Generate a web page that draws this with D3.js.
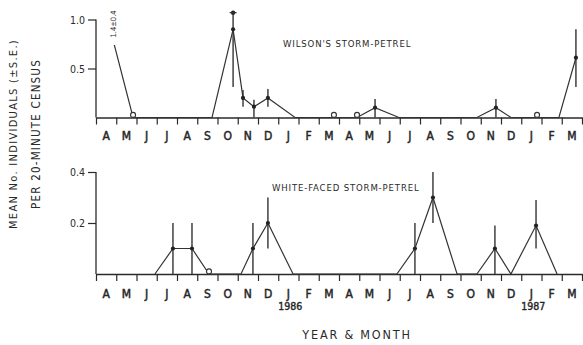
<!DOCTYPE html>
<html>
<head>
<meta charset="utf-8">
<script src="https://cdn.jsdelivr.net/npm/d3@7"></script>
<style>
  html, body { margin: 0; padding: 0; background: #fff; }
  svg { display: block; }
  text { font-family: 'DejaVu Sans Condensed', 'DejaVu Sans', sans-serif; font-stretch: condensed; fill: #2a2a2a; }
</style>
</head>
<body>
<svg id="chart" width="583" height="345"></svg>
<script>
// Month labels, April 1985 to March 1987
const monthLabels = ["A","M","J","J","A","S","O","N","D","J","F","M","A","M","J","J","A","S","O","N","D","J","F","M"];
const yearLabels = ["1986", "1987"];
const yearMonthIndex = [9, 21];

// Wilson's storm-petrel (x = months since 1 April 1985)
const wilsonX   = [0.08, 1.83, 5.73, 6.77, 7.26, 7.80, 8.49, 9.83, 11.75, 12.89, 13.78, 14.96, 18.81, 19.75, 20.49, 21.78, 22.86, 23.70];
const wilsonY   = [1.4,  0,    0,    0.9,  0.2,  0.11, 0.2,  0,    0,     0,     0.1,   0,     0,     0.1,   0,     0,     0,     0.61];
const wilsonLo  = [null, null, null, 0.31, 0.11, 0.0,  0.11, null, null,  null,  0.0,   null,  null,  0.0,   null,  null,  null,  0.31];
const wilsonHi  = [null, null, null, 1.07, 0.28, 0.18, 0.29, null, null,  null,  0.19,  null,  null,  0.19,  null,  null,  null,  0.90];
const wilsonMk  = ["none","open","none","dot","dot","dot","dot","none","open","open","dot","none","none","dot","none","open","none","dot"];
const wilsonTicks = [0.5, 1.0];
const wilsonTickLabels = ["0.5", "1.0"];

// White-faced storm-petrel
const whiteX  = [2.91, 3.80, 4.74, 5.58, 7.16, 7.75, 8.49, 9.73, 14.86, 15.75, 16.64, 17.83, 18.81, 19.70, 20.49, 21.73, 22.77];
const whiteY  = [0,    0.1,  0.1,  0,    0,    0.1,  0.2,  0,    0,     0.1,   0.3,   0,     0,     0.1,   0,     0.19,  0];
const whiteLo = [null, 0.0,  0.0,  null, null, 0.0,  0.1,  null, null,  0.0,   0.2,   null,  null,  0.0,   null,  0.1,   null];
const whiteHi = [null, 0.2,  0.2,  null, null, 0.2,  0.3,  null, null,  0.2,   0.4,   null,  null,  0.19,  null,  0.29,  null];
const whiteMk = ["none","dot","dot","open","none","dot","dot","none","none","dot","dot","none","none","dot","none","dot","none"];
const whiteTicks = [0.2, 0.4];
const whiteTickLabels = ["0.2", "0.4"];

const svg = d3.select("#chart");
const ink = "#2a2a2a";

const x = d3.scaleLinear().domain([0, 24]).range([96, 582]);

function panel(opts) {
  const { y, xs, ys, lo, hi, mk, ticks, tickLabels, title, titleX, titleY, clipFirst, labelY, yearY } = opts;
  const g = svg.append("g");

  // y axis
  const yAxis = d3.axisLeft(y).tickValues(ticks).tickFormat((d, i) => tickLabels[i]).tickSize(8).tickSizeOuter(0);
  const ya = g.append("g").attr("transform", `translate(${x(0)},0)`).call(yAxis);
  ya.select(".domain").attr("stroke", ink).attr("stroke-width", 1.3)
    .attr("d", `M0,${y.range()[1]}V${y.range()[0]}`);
  ya.selectAll(".tick line").attr("stroke", ink).attr("stroke-width", 1.2);
  ya.selectAll(".tick text").attr("font-size", 10.5).attr("x", -11).attr("dy", "0.35em")
    .style("font-family", "'DejaVu Sans Condensed','DejaVu Sans',sans-serif").attr("fill", "#555");

  // x axis
  const xAxis = d3.axisBottom(x).tickValues(d3.range(0, 25)).tickFormat("").tickSize(7).tickSizeOuter(0);
  const xa = g.append("g").attr("transform", `translate(0,${y(0)})`).call(xAxis);
  xa.select(".domain").attr("stroke", ink).attr("stroke-width", 1.3);
  xa.selectAll(".tick line").attr("stroke", ink).attr("stroke-width", 1.2);

  g.selectAll(".mlab").data(monthLabels).join("text")
    .attr("x", (d, i) => x(i + 0.5)).attr("y", labelY)
    .attr("text-anchor", "middle").attr("font-size", 12)
    .attr("fill", "#222").attr("stroke", "#222").attr("stroke-width", 0.45).text(d => d);

  if (yearY) {
    g.selectAll(".ylab").data(yearLabels).join("text")
      .attr("x", (d, i) => x(yearMonthIndex[i] + 0.5) + 2).attr("y", yearY)
      .attr("text-anchor", "middle").attr("font-size", 10.5)
      .attr("fill", "#222").attr("stroke", "#222").attr("stroke-width", 0.4).text(d => d);
  }

  // title
  g.append("text").attr("x", titleX).attr("y", titleY).attr("font-size", 9.5)
    .attr("letter-spacing", 0.85).attr("fill", "#333").text(title);

  // line
  const pts = xs.map((d, i) => [x(d), y(ys[i])]);
  const line = d3.line();
  const lp = g.append("path").attr("d", line(pts)).attr("fill", "none")
    .attr("stroke", "#333").attr("stroke-width", 1.2);
  if (clipFirst) lp.attr("clip-path", "url(#clipTop)");

  // error bars
  xs.forEach((d, i) => {
    if (lo[i] === null) return;
    g.append("line").attr("x1", x(d)).attr("x2", x(d)).attr("y1", y(lo[i])).attr("y2", y(hi[i]))
      .attr("stroke", "#333").attr("stroke-width", 1.4);
  });

  // markers
  xs.forEach((d, i) => {
    if (mk[i] === "dot") {
      g.append("circle").attr("cx", x(d)).attr("cy", y(ys[i])).attr("r", 2.1).attr("fill", "#222");
    } else if (mk[i] === "open") {
      g.append("circle").attr("cx", x(d)).attr("cy", y(0) - 2.6).attr("r", 2.5)
        .attr("fill", "#fff").attr("stroke", "#333").attr("stroke-width", 1.1);
    }
  });
  return g;
}

const yTop = d3.scaleLinear().domain([0, 1]).range([117.5, 19.5]);
const yBot = d3.scaleLinear().domain([0, 0.4]).range([274, 172]);

// clip for the off-scale first segment
const defs = svg.append("defs");
const cp = defs.append("clipPath").attr("id", "clipTop");
cp.append("rect").attr("x", 0).attr("y", 45).attr("width", 125).attr("height", 300);
cp.append("rect").attr("x", 125).attr("y", 0).attr("width", 500).attr("height", 345);

const gTop = panel({ y: yTop, xs: wilsonX, ys: wilsonY, lo: wilsonLo, hi: wilsonHi, mk: wilsonMk,
  ticks: wilsonTicks, tickLabels: wilsonTickLabels, title: "WILSON'S STORM-PETREL",
  titleX: 283, titleY: 47, clipFirst: true, labelY: 140 });

// cap marker at top of the October 1985 error bar
gTop.append("circle").attr("cx", x(wilsonX[3])).attr("cy", yTop(wilsonHi[3])).attr("r", 2.2).attr("fill", "#222");
gTop.append("line").attr("x1", x(wilsonX[3]) - 3.5).attr("x2", x(wilsonX[3]) + 3.5)
  .attr("y1", yTop(wilsonHi[3])).attr("y2", yTop(wilsonHi[3])).attr("stroke", "#333").attr("stroke-width", 1.2);

// off-scale value label
gTop.append("text").attr("transform", `translate(${x(0.85)},${24}) rotate(-90)`)
  .attr("text-anchor", "middle").attr("dy", "0.35em").attr("font-size", 7.5).attr("fill", "#444")
  .text("1.4±0.4");

panel({ y: yBot, xs: whiteX, ys: whiteY, lo: whiteLo, hi: whiteHi, mk: whiteMk,
  ticks: whiteTicks, tickLabels: whiteTickLabels, title: "WHITE-FACED STORM-PETREL",
  titleX: 272, titleY: 191, clipFirst: false, labelY: 298, yearY: 310 });

// axis titles
svg.append("text").attr("transform", "translate(13,134) rotate(-90)").attr("text-anchor", "middle")
  .attr("dy", "0.35em").attr("font-size", 11).attr("letter-spacing", 1.3).attr("fill", "#555")
  .text("MEAN No. INDIVIDUALS (±S.E.)");
svg.append("text").attr("transform", "translate(36,134) rotate(-90)").attr("text-anchor", "middle")
  .attr("dy", "0.35em").attr("font-size", 11.5).attr("letter-spacing", 1.2).attr("fill", "#333")
  .text("PER 20-MINUTE CENSUS");
svg.append("text").attr("x", 357).attr("y", 339).attr("text-anchor", "middle")
  .attr("font-size", 12.5).attr("letter-spacing", 1.8).attr("fill", "#333").text("YEAR & MONTH");
</script>
</body>
</html>
